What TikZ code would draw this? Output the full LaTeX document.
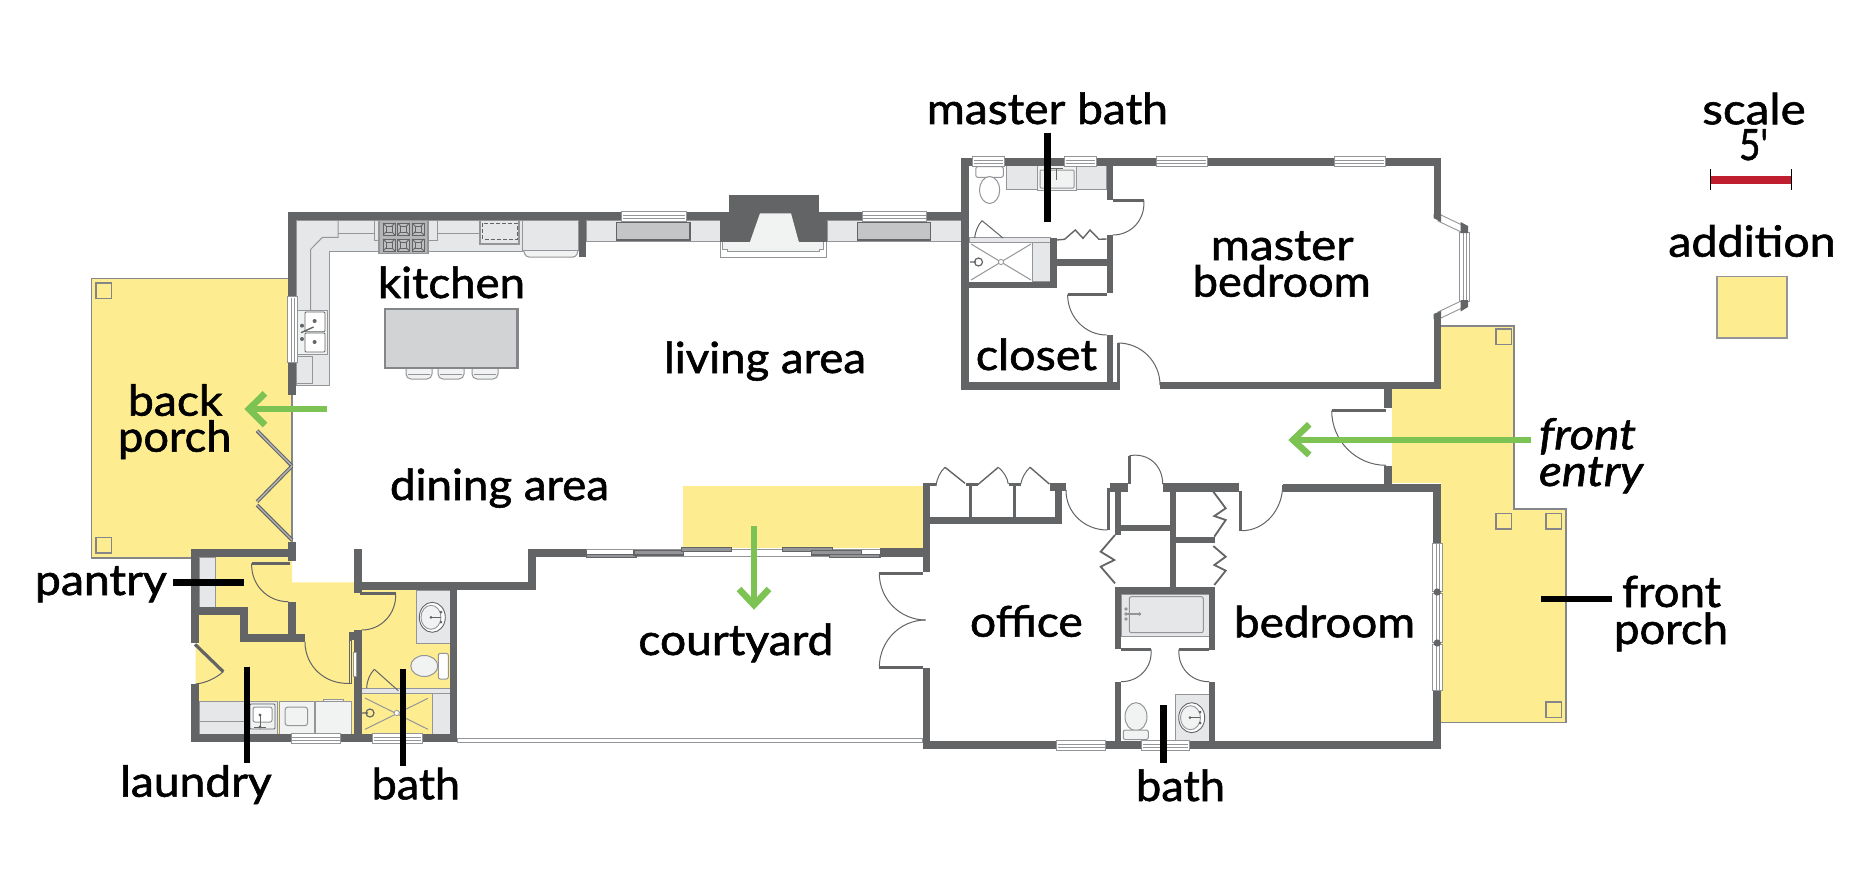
\documentclass[tikz,border=0pt]{standalone}
\usepackage{fontspec}
\usepackage{graphicx}
\setmainfont{Lato}[Ligatures=TeXOff,UprightFeatures={FakeBold=1.3},ItalicFeatures={FakeBold=1.3}]
\definecolor{wallc}{HTML}{636466}
\definecolor{counterc}{HTML}{E6E7E8}
\definecolor{linec}{HTML}{939598}
\definecolor{yellowc}{HTML}{FEEC90}
\definecolor{greenc}{HTML}{7CC353}
\definecolor{redc}{HTML}{BE1E2D}
\definecolor{islandc}{HTML}{D1D3D4}
\definecolor{lightc}{HTML}{F1F2F2}
\tikzset{
 wall/.style={fill=wallc,draw=none},
 counter/.style={fill=counterc,draw=linec,line width=1pt},
 appliance/.style={fill=lightc,draw=linec,line width=1pt},
 fine/.style={draw=linec,line width=1pt},
 swing/.style={draw=wallc,line width=1pt},
 leaf/.style={draw=wallc,line width=3.2pt},
 leader/.style={draw=black,line width=6.5pt},
 arrowline/.style={draw=greenc,line width=6.5pt},
 porchline/.style={draw=linec!90!black,line width=1.6pt},
 post/.style={draw=linec!90!black,line width=1.4pt},
 bifold/.style={draw=wallc,line width=1.4pt},
 lbl/.style={anchor=base west,inner sep=0pt,outer sep=0pt,font=\fontsize{43}{43}\selectfont},
}
\newcommand{\wl}[4]{\fill[wall] (#1,#2) rectangle (#3,#4);}
\newcommand{\winh}[4]{\filldraw[fill=white,draw=linec,line width=.9pt] (#1,#3-1) rectangle (#2,#4+1);\draw[linec,line width=.9pt] (#1+1,#3+3) -- (#2-1,#3+3);\draw[linec,line width=.9pt] (#1+1,#4-2) -- (#2-1,#4-2);}
\newcommand{\winv}[4]{\filldraw[fill=white,draw=linec,line width=.9pt] (#1-1,#3) rectangle (#2+1,#4);\draw[linec,line width=.9pt] (#1+3,#3+1) -- (#1+3,#4-1);\draw[linec,line width=.9pt] (#2-2,#3+1) -- (#2-2,#4-1);}
% quarter arc p1 -> p2, centre c
\newcommand{\qarc}[6]{\pgfmathsetmacro\cax{#1+.5523*(#3-#5)}\pgfmathsetmacro\cay{#2+.5523*(#4-#6)}\pgfmathsetmacro\cbx{#3+.5523*(#1-#5)}\pgfmathsetmacro\cby{#4+.5523*(#2-#6)}\draw[swing] (#1,#2) .. controls (\cax,\cay) and (\cbx,\cby) .. (#3,#4);}
\newcommand{\lab}[6][]{\pgfmathsetmacro\lw{#4-#3}\node[lbl] (#2) at (#3,#5) {\resizebox{\lw pt}{\height}{#1#6}};}
\newcommand{\postsq}[2]{\draw[post] (#1,#2) rectangle ++(15.5,15.5);}
\newcommand{\burner}[2]{\draw[wallc,line width=.9pt,fill=linec!60] (#1-6,#2-6) rectangle (#1+6,#2+6);\draw[wallc,line width=.9pt] (#1-6,#2-6) -- (#1+6,#2+6) (#1+6,#2-6) -- (#1-6,#2+6);\draw[wallc,line width=.9pt,fill=linec!60] (#1-3,#2-3) rectangle (#1+3,#2+3);}
\newcommand{\stool}[1]{\draw[fine,fill=lightc,rounded corners=2pt] (#1-13,369) -- (#1-13,376) -- (#1-10,379) -- (#1+10,379) -- (#1+13,376) -- (#1+13,369);\draw[fine] (#1-11,374) -- (#1+11,374);}
\newcommand{\slidepanel}[4]{\filldraw[fill=linec,draw=wallc,line width=1.2pt] (#1,#3) rectangle (#2,#4);}
\begin{document}
\begin{tikzpicture}[x=1pt,y=-1pt]
\useasboundingbox (0,0) rectangle (1870,888);
\fill[white] (0,0) rectangle (1870,888);
% ---------- yellow additions
\filldraw[fill=yellowc,porchline] (292,278.5) -- (91.5,278.5) -- (91.5,558) -- (292,558) -- cycle;
\fill[yellowc] (195.7,557) -- (292,557) -- (292,582.3) -- (354,582.3) -- (354,590) -- (450,590) -- (450,734) -- (199,734) -- (199,684) -- (195.7,684) -- (195.7,644) -- (199,644) -- cycle;
\fill[yellowc] (682.7,485.7) rectangle (923,548.3);
\fill[yellowc] (1391.7,389) rectangle (1441,483);
\fill[yellowc] (1441,325.7) -- (1514,325.7) -- (1514,509) -- (1565.7,509) -- (1565.7,722.3) -- (1441,722.3) -- cycle;
\draw[porchline] (1441,325.7) -- (1514,325.7) -- (1514,509) -- (1565.7,509) -- (1565.7,722.3) -- (1441,722.3);
\draw[porchline,line width=1pt] (292,395) -- (292,542);
\postsq{96}{283}\postsq{96}{537.5}
\postsq{1496}{329}\postsq{1496}{513.5}\postsq{1545.8}{513.5}\postsq{1545.8}{702}
% ---------- kitchen counters
\draw[counter] (296,220) -- (296,385) -- (329.6,385) -- (329.6,251) -- (522,251) -- (522,220) -- cycle;
\draw[fine] (338,220) -- (338,237.3) -- (322.5,237.3) -- (310.7,249.3) -- (310.7,310);
\draw[fine] (338,233.3) -- (374,233.3) (437,233.3) -- (480,233.3);
\draw[fine] (296,356.7) -- (312,356.7) -- (312,383.3) -- (296,383.3);
\draw[counter] (374,220) rectangle (437,240.7);
\draw[fill=linec!70,draw=linec,line width=1.2pt] (379,220) rectangle (428,253.3);
\foreach \bx in {389,403.6,418}{\foreach \by in {229,245}{\burner{\bx}{\by}}}
\draw[fill=counterc,draw=linec,line width=1.6pt] (480,220) rectangle (519,244);
\draw[wallc,line width=1pt,dash pattern=on 4pt off 2pt] (482.5,223) rectangle (517,239);
\draw[fine,fill=lightc,rounded corners=3pt] (523.5,250.7) -- (526,257) -- (576,257) -- (578,250.7);
\draw[counter] (522.5,220) rectangle (578,250.7);
% sink
\draw[fine,fill=lightc] (297.5,310) rectangle (327,354);
\draw[wallc,line width=.9pt,fill=white,rounded corners=1pt] (305,312) rectangle (325,331.7);
\draw[wallc,line width=.9pt,fill=white,rounded corners=1pt] (305,333) rectangle (325,352);
\fill[wallc] (314.6,321) circle (2) (314.6,342) circle (2) (302,325.7) circle (2) (302,339) circle (2);
\draw[wallc,line width=1.4pt] (301,332.7) -- (313.6,327);
% island
\draw[fill=islandc,draw=linec!90!black,line width=2.2pt] (385,309.3) rectangle (517.5,368.3);
\stool{419}\stool{451}\stool{485}
% living-wall counters
\draw[counter] (586,220) rectangle (720,241);
\draw[counter] (827,220) rectangle (961,241);
\draw[fill=linec!55,draw=wallc,line width=1.3pt] (616.7,222.3) rectangle (690,240);
\draw[fill=linec!55,draw=wallc,line width=1.3pt] (857.3,222.3) rectangle (930.7,240);
% hearth
\draw[fine,fill=white] (720,241.7) -- (720,257.7) -- (826.7,257.7) -- (826.7,241.7);
\filldraw[fill=lightc,draw=linec,line width=1pt] (722.3,241.7) -- (722.3,249) -- (727.3,249) -- (727.3,251.7) -- (819,251.7) -- (819,249) -- (823,249) -- (823,241.7) -- cycle;
% ---------- lower-left fixtures
\draw[counter] (199,557) rectangle (215.7,607.3);
\draw[counter] (199,701.3) rectangle (277.3,734);
\draw[fine] (199,721) -- (250,721);
\draw[wallc,line width=.9pt,fill=lightc,rounded corners=1pt] (250,704) rectangle (275,729);
\draw[fine,fill=white,rounded corners=2pt] (253,707) rectangle (272,722);
\fill[wallc] (260,715) circle (1.6) (260,727) circle (1.6);
\draw[wallc,line width=.9pt] (260,715) -- (260,727) (254,727) -- (266,727);
\draw[appliance] (279.3,701.3) rectangle (314,734);
\draw[fine,fill=lightc,rounded corners=3pt] (285,707) rectangle (307.7,725.7);
\draw[appliance] (323,701.3) rectangle (343,699.5);
\draw[appliance] (315.7,701.3) rectangle (351.7,734);
% bath (yellow)
\draw[counter] (416,590) rectangle (450,643.3);
\filldraw[fill=white,draw=wallc,line width=.9pt] (432.3,617.3) ellipse (13 and 15);
\filldraw[fill=lightc,draw=linec,line width=.9pt] (431,617.3) ellipse (10 and 12);
\fill[wallc] (431,617.3) circle (1.5) (441,612) circle (1.5) (441,622) circle (1.5);
\draw[wallc,line width=1.2pt] (431,617.3) -- (441,617.3);
\filldraw[fill=white,draw=linec,line width=1pt,rounded corners=2pt] (438.3,653.3) rectangle (448.3,679);
\filldraw[fill=lightc,draw=linec,line width=1pt] (424.3,666) ellipse (13.5 and 10.5);
\draw[counter] (361.7,688.3) rectangle (450,693.3);
\draw[counter] (432.3,693.3) rectangle (450,734);
\draw[fine] (365,698) -- (428,729.3) (428,698.3) -- (365,729.3);
\filldraw[fill=white,draw=linec,line width=.8pt] (396.7,713) circle (2.6);
\draw[wallc,line width=1.2pt] (370,713) circle (4) (362,713) -- (368,713);
\draw[fine,draw=wallc,line width=1pt] (398.3,690.7) -- (374.3,669.3);
\draw[swing] (374.3,669.3) .. controls (370,674) and (367,680) .. (366.7,688);
% ---------- master-bath fixtures
\draw[counter] (1006.4,165.7) rectangle (1106,189);
\draw[appliance] (1037.8,165.7) rectangle (1076,190.7);
\draw[fine,rounded corners=1pt] (1040,170) rectangle (1074,188);
\draw[wallc,line width=.9pt] (1056.5,168) -- (1056.5,180) (1050,168) -- (1063,168);
\filldraw[fill=white,draw=linec,line width=1pt,rounded corners=2pt] (975.8,166.7) rectangle (1003.3,177.3);
\filldraw[fill=white,draw=linec,line width=1pt] (989.6,190) ellipse (10 and 13.5);
\draw[counter] (969,237.7) rectangle (1050,242.7);
\draw[counter] (1032.8,242.7) rectangle (1050,281.7);
\draw[fine] (971,244) -- (1031,280) (1031,244) -- (971,280);
\filldraw[fill=white,draw=linec,line width=.8pt] (1001,262) circle (2.6);
\draw[wallc,line width=1.2pt] (978.5,262) circle (4) (970,262) -- (976,262);
\draw[wallc,line width=1pt] (1003,238) -- (982,220.7);
\draw[swing] (982,220.7) .. controls (978,225) and (975.5,231) .. (974.6,238);
% ---------- lower-right bath fixtures
\draw[counter] (1121,594) rectangle (1209,636.7);
\draw[fine,rounded corners=2pt] (1129.3,596.7) rectangle (1203.3,632.7);
\fill[linec] (1126,609) circle (1.8) (1126,614) circle (1.8) (1126,619) circle (1.8) (1139.5,614) circle (1.8);
\draw[linec,line width=1.4pt] (1126,614) -- (1139.5,614);
\draw[counter] (1175,694.3) rectangle (1209,741);
\filldraw[fill=white,draw=wallc,line width=.9pt] (1191.7,717.7) ellipse (13 and 15);
\filldraw[fill=lightc,draw=linec,line width=.9pt] (1190.5,717.7) ellipse (10 and 12);
\fill[wallc] (1190,717.7) circle (1.5) (1200,712) circle (1.5) (1200,723) circle (1.5);
\draw[wallc,line width=1.2pt] (1190,717.7) -- (1200,717.7);
\filldraw[fill=lightc,draw=linec,line width=1pt] (1136,716.7) ellipse (11 and 14);
\filldraw[fill=lightc,draw=linec,line width=1pt,rounded corners=2pt] (1123.3,730) rectangle (1148.3,739.5);
% ---------- walls
% main north
\wl{288}{212.3}{961}{220}
\wl{288}{212.3}{296}{296.7}
\wl{288}{362.7}{296}{395}
\wl{288}{541.7}{296}{561}
\wl{578.6}{212.3}{586}{257}
% fireplace
\fill[wallc] (729.3,195.3) rectangle (818.7,212.3);
\fill[wallc] (720,212) rectangle (826.7,241.7);
\fill[lightc] (760,213.3) -- (791,213.3) -- (798.7,241.7) -- (750,241.7) -- cycle;
\fill[lightc] (750,241) rectangle (798.7,243);
% dining south
\wl{190.7}{549}{296}{557}
\wl{190.7}{549}{199}{643}
\wl{190.7}{684}{199}{742.3}
\wl{199}{607.3}{247.7}{615}
\wl{240}{607.3}{247.7}{642}
\wl{240}{634.3}{305}{642}
\wl{288.3}{601.7}{296}{642}
\wl{353.6}{549}{362}{593}
\wl{353.6}{582.3}{536}{590}
\wl{528}{549}{536}{590}
\wl{528}{549}{587}{557}
\wl{354}{630}{361.7}{742}
\wl{450}{590}{457.3}{742.3}
\wl{190.7}{734}{457.3}{742.3}
% slider
\draw[linec,line width=1pt] (586,549) -- (880,549);
\draw[linec,line width=1pt] (586,556.5) -- (880,556.5);
\wl{880}{548.3}{923}{556.7}
\slidepanel{586.7}{636}{554.3}{557.5}
\slidepanel{634}{683.3}{550.7}{555}
\slidepanel{681.7}{731.7}{547.7}{551.7}
\slidepanel{782.3}{832.7}{547.7}{551.7}
\slidepanel{811.7}{861.7}{550.7}{555}
\slidepanel{829.3}{880}{554.3}{557.5}
% courtyard closing line
\draw[linec,line width=1pt,fill=white] (457,738.3) rectangle (922.7,742.7);
% office / closets
\wl{922.7}{483.3}{930}{572.3}
\wl{922.7}{668.3}{930}{749}
\wl{930}{516.7}{1062.3}{524}
\wl{923}{483.3}{936}{486}
\wl{966}{483.3}{978}{486}
\wl{1009}{483.3}{1020.7}{486}
\wl{1050}{483.3}{1066}{491}
\wl{1055}{483.3}{1062.3}{524}
\wl{968.7}{486}{971.5}{517}
\wl{1012.5}{486}{1015.5}{517}
\wl{922.7}{741}{1441}{749}
% centre wing
\wl{1115}{483.3}{1120.7}{535}
\wl{1110}{483.3}{1128.3}{491.7}
\wl{1162.7}{483.3}{1239.3}{491.7}
\wl{1170}{491}{1176}{586.7}
\wl{1120}{525}{1170}{531}
\wl{1176}{537.3}{1215}{543.3}
\wl{1115}{586.7}{1215}{594}
\wl{1115}{586.7}{1120.7}{649}
\wl{1209}{586.7}{1215}{650}
\wl{1115}{681.7}{1121}{749}
\wl{1209}{681.7}{1215}{749}
\wl{1282.7}{483.7}{1441}{491.7}
\wl{1433.3}{483.7}{1441}{543.3}
\wl{1433.3}{690.7}{1441}{749}
% master suite
\wl{961.2}{157.7}{1441}{165.7}
\wl{961.2}{157.7}{968.9}{390}
\wl{961.2}{382.3}{1116.6}{390}
\wl{1106.6}{157.7}{1112.8}{200}
\wl{1106.6}{235}{1112.8}{293.3}
\wl{1106.6}{335}{1112.8}{390}
\wl{1050}{238}{1057}{288}
\wl{961.2}{281.7}{1057}{288}
\wl{1057}{259}{1106.6}{265.7}
\wl{1160}{381.7}{1441}{389}
\wl{1433.5}{157.7}{1441}{216}
\wl{1433.5}{316.7}{1441}{389}
\wl{1384}{389}{1391.7}{408}
\wl{1384}{465.7}{1391.7}{484}
% windows
\winh{621.7}{686}{212.3}{220}
\winh{862.3}{926.7}{212.3}{220}
\winh{972.7}{1004}{157.7}{165.7}
\winh{1064.6}{1096}{157.7}{165.7}
\winh{1156.4}{1207}{157.7}{165.7}
\winh{1334}{1385}{157.7}{165.7}
\winh{291}{340.7}{734}{742.3}
\winh{372.7}{422.3}{734}{742.3}
\winh{1056.7}{1105.7}{741}{749}
\winh{1141.7}{1189.3}{741}{749}
\winv{288.5}{296}{296.7}{362.7}
\winv{1433.3}{1441}{543.3}{591}
\winv{1433.3}{1441}{593}{642}
\winv{1433.3}{1441}{644}{690.7}
\fill[wallc] (1437.2,592) circle (3.6) (1437.2,643) circle (3.6);
% bay window
\filldraw[fill=white,draw=linec,line width=.9pt] (1441,215) -- (1464,226) -- (1461,232) -- (1438,221) -- cycle;
\filldraw[fill=white,draw=linec,line width=.9pt] (1441,318) -- (1464,307) -- (1461,301) -- (1438,312) -- cycle;
\fill[wallc] (1433.5,214) -- (1441,214) -- (1441,222) -- (1433.5,218) -- cycle;
\fill[wallc] (1433.5,314) -- (1441,311) -- (1441,318) -- (1433.5,319) -- cycle;
\winv{1460.6}{1468}{232}{301}
\fill[wallc] (1460.6,222) -- (1468,226) -- (1468,233) -- (1460.6,233) -- cycle;
\fill[wallc] (1460.6,300) -- (1468,300) -- (1468,307) -- (1460.6,311.5) -- cycle;
% ---------- doors
\draw[leaf] (290,563.3) -- (251.7,563.3); \qarc{251.7}{563.3}{288.3}{601.7}{290}{563.3}
\draw[leaf] (195,644.3) -- (223.3,671.7); \draw[swing] (223.3,671.7) .. controls (216,678) and (206,683) .. (195.7,684);
\draw[wallc,line width=1pt] (349,640) rectangle (351.5,683); \fill[wallc] (349,632) rectangle (354,640); \qarc{305}{642}{349}{683.3}{349}{640}
\draw[fine,fill=white] (353,652) rectangle (356,676);
\draw[leaf] (360,593.3) -- (395.7,593.3); \qarc{395.7}{593.3}{361.7}{630}{360}{593.3}
\draw[leaf] (1113,200.5) -- (1143.8,200.5); \qarc{1143.8}{200.5}{1112.8}{235}{1110}{200.5}
\draw[leaf] (1106.6,294.5) -- (1067.6,294.5); \qarc{1067.6}{294.5}{1106.6}{335}{1106.6}{294.5}
\draw[wallc,line width=3pt] (1118,343) -- (1118,390); \qarc{1118}{343}{1160}{385}{1118}{385}
\draw[leaf] (1331.7,410.7) -- (1386,410.7); \qarc{1331.7}{410.7}{1386}{465.3}{1386}{410.7}
\draw[wallc,line width=3pt] (1240.7,491) -- (1240.7,530.7); \qarc{1282.7}{485}{1241.7}{530.7}{1241.7}{485}
\draw[leaf] (879.3,573.3) -- (923,573.3); \qarc{879.3}{573.3}{925.7}{620}{925.7}{573.3}
\draw[leaf] (879.3,667.3) -- (923,667.3); \qarc{879.3}{667.3}{925.7}{620}{925.7}{667.3}
\draw[swing] (936,486) .. controls (937,478) and (940,472) .. (945,467.3);
\draw[wallc,line width=1.4pt] (945,467.3) -- (965,483.3);
\draw[wallc,line width=1.4pt] (978,484.5) -- (998.3,467.3);
\draw[swing] (998.3,467.3) .. controls (1004,472) and (1007.5,478) .. (1008.3,484);
\draw[swing] (1020.7,484) .. controls (1022,478) and (1025,472) .. (1030,467.3);
\draw[wallc,line width=1.4pt] (1030,467.3) -- (1049.3,484);
\qarc{1066}{490}{1107.3}{530}{1108}{490}
\draw[wallc,line width=3pt] (1108.5,488) -- (1108.5,530);
\draw[wallc,line width=3pt] (1129.5,455.7) -- (1129.5,484);\qarc{1129.5}{455.7}{1162.7}{484}{1129.5}{490}
\draw[leaf] (1121,649.3) -- (1151,649.3); \qarc{1151}{649.3}{1121}{681.7}{1118}{649.3}
\draw[leaf] (1209,649.3) -- (1179,649.3); \qarc{1179}{649.3}{1209}{681.7}{1212}{649.3}
% folding doors
\foreach \ax/\ay/\bx/\by in {292/466/257/430.7,292/466/257/501.7,257/505/292/540}{
 \draw[wallc,line width=3.6pt] (\ax,\ay) -- (\bx,\by);
 \draw[linec!70,line width=1.4pt] (\ax,\ay) -- (\bx,\by);}
\draw[bifold] (1057,240) -- (1064.6,239.3) -- (1075.3,230) -- (1083,238.3) -- (1090,230) -- (1099,239.3) -- (1106.6,239);
\draw[bifold,line width=1.8pt] (1115,535) -- (1100.7,551.7) -- (1114.3,560) -- (1100.7,566.7) -- (1115,583.3);
\draw[bifold,line width=1.8pt] (1213.3,491.7) -- (1225.7,508.3) -- (1214.3,516) -- (1225.7,520) -- (1214.3,536.7);
\draw[bifold,line width=1.8pt] (1213.3,546) -- (1225.7,556.7) -- (1214.3,565) -- (1225.7,570.7) -- (1214.3,585);
% ---------- green arrows
\coordinate (backS) at (327,409); \coordinate (backT) at (248,409);
\draw[arrowline] (backS) -- (backT);
\draw[arrowline,miter limit=8] (265,393.3) -- (249,409) -- (265,425);
\coordinate (frontS) at (1531,440); \coordinate (frontT) at (1292,440);
\draw[arrowline] (frontS) -- (frontT);
\draw[arrowline] (1309.3,424.3) -- (1293,440) -- (1309.3,455);
\coordinate (courtS) at (754,526); \coordinate (courtT) at (754,605);
\draw[arrowline] (courtS) -- (courtT);
\draw[arrowline] (739,589) -- (754,605) -- (769,589);
% ---------- leaders
\coordinate (l1a) at (173.3,582.7); \coordinate (l1b) at (244.3,582.7);
\coordinate (l2a) at (247,666.7); \coordinate (l2b) at (247,763.3);
\coordinate (l3a) at (403,669); \coordinate (l3b) at (403,766);
\coordinate (l4a) at (1047.3,132.7); \coordinate (l4b) at (1047.3,222.3);
\coordinate (l5a) at (1163.3,705); \coordinate (l5b) at (1163.3,763.3);
\coordinate (l6a) at (1541,599); \coordinate (l6b) at (1612.3,599);
\foreach \a/\b in {l1a/l1b,l2a/l2b,l3a/l3b,l4a/l4b,l5a/l5b,l6a/l6b}{\draw[leader] (\a) -- (\b);}
% ---------- scale
\draw[redc,line width=8pt] (1710.3,180.3) -- (1791,180.3);
\draw[black,line width=1pt] (1710.3,169.3) -- (1710.3,190) (1791,169.3) -- (1791,190);
\filldraw[fill=yellowc,draw=linec,line width=1.4pt] (1717,276.7) rectangle (1787,338);
% ---------- labels
\lab{kitchen}{378}{525}{298}{kitchen}
\lab{backl}{128}{222.5}{415.7}{back}
\lab{porchl}{118}{231.4}{451.7}{porch}
\lab{dining}{390}{609}{500}{dining area}
\lab{living}{664}{866}{373}{living area}
\lab{pantry}{35}{166.7}{595}{pantry}
\lab{laundry}{120}{271.7}{796.7}{laundry}
\lab{bathA}{371.7}{460}{799.3}{bath}
\lab{courtyard}{638.3}{833.3}{655}{courtyard}
\lab{office}{970}{1082.7}{636.7}{office}
\lab{bathB}{1136}{1225}{801}{bath}
\lab{bedroom}{1234}{1415}{637.3}{bedroom}
\lab{mbath}{926.8}{1167.9}{124}{master bath}
\lab{mbed}{1210.8}{1353.5}{260}{master}
\lab{mbedb}{1192.8}{1370.7}{296.7}{bedroom}
\lab{closet}{975.8}{1097}{370}{closet}
\lab[\itshape]{fentry}{1539}{1636}{449.3}{front}
\lab[\itshape]{fentryb}{1539}{1643}{486}{entry}
\lab{fporch}{1622}{1721}{607}{front}
\lab{fporchb}{1614}{1728}{644}{porch}
\lab{scalel}{1702.3}{1805.7}{124.3}{scale}
\lab{fivel}{1739}{1768}{160}{5'}
\lab{addl}{1668.3}{1835.7}{256.7}{addition}
\end{tikzpicture}
\end{document}
